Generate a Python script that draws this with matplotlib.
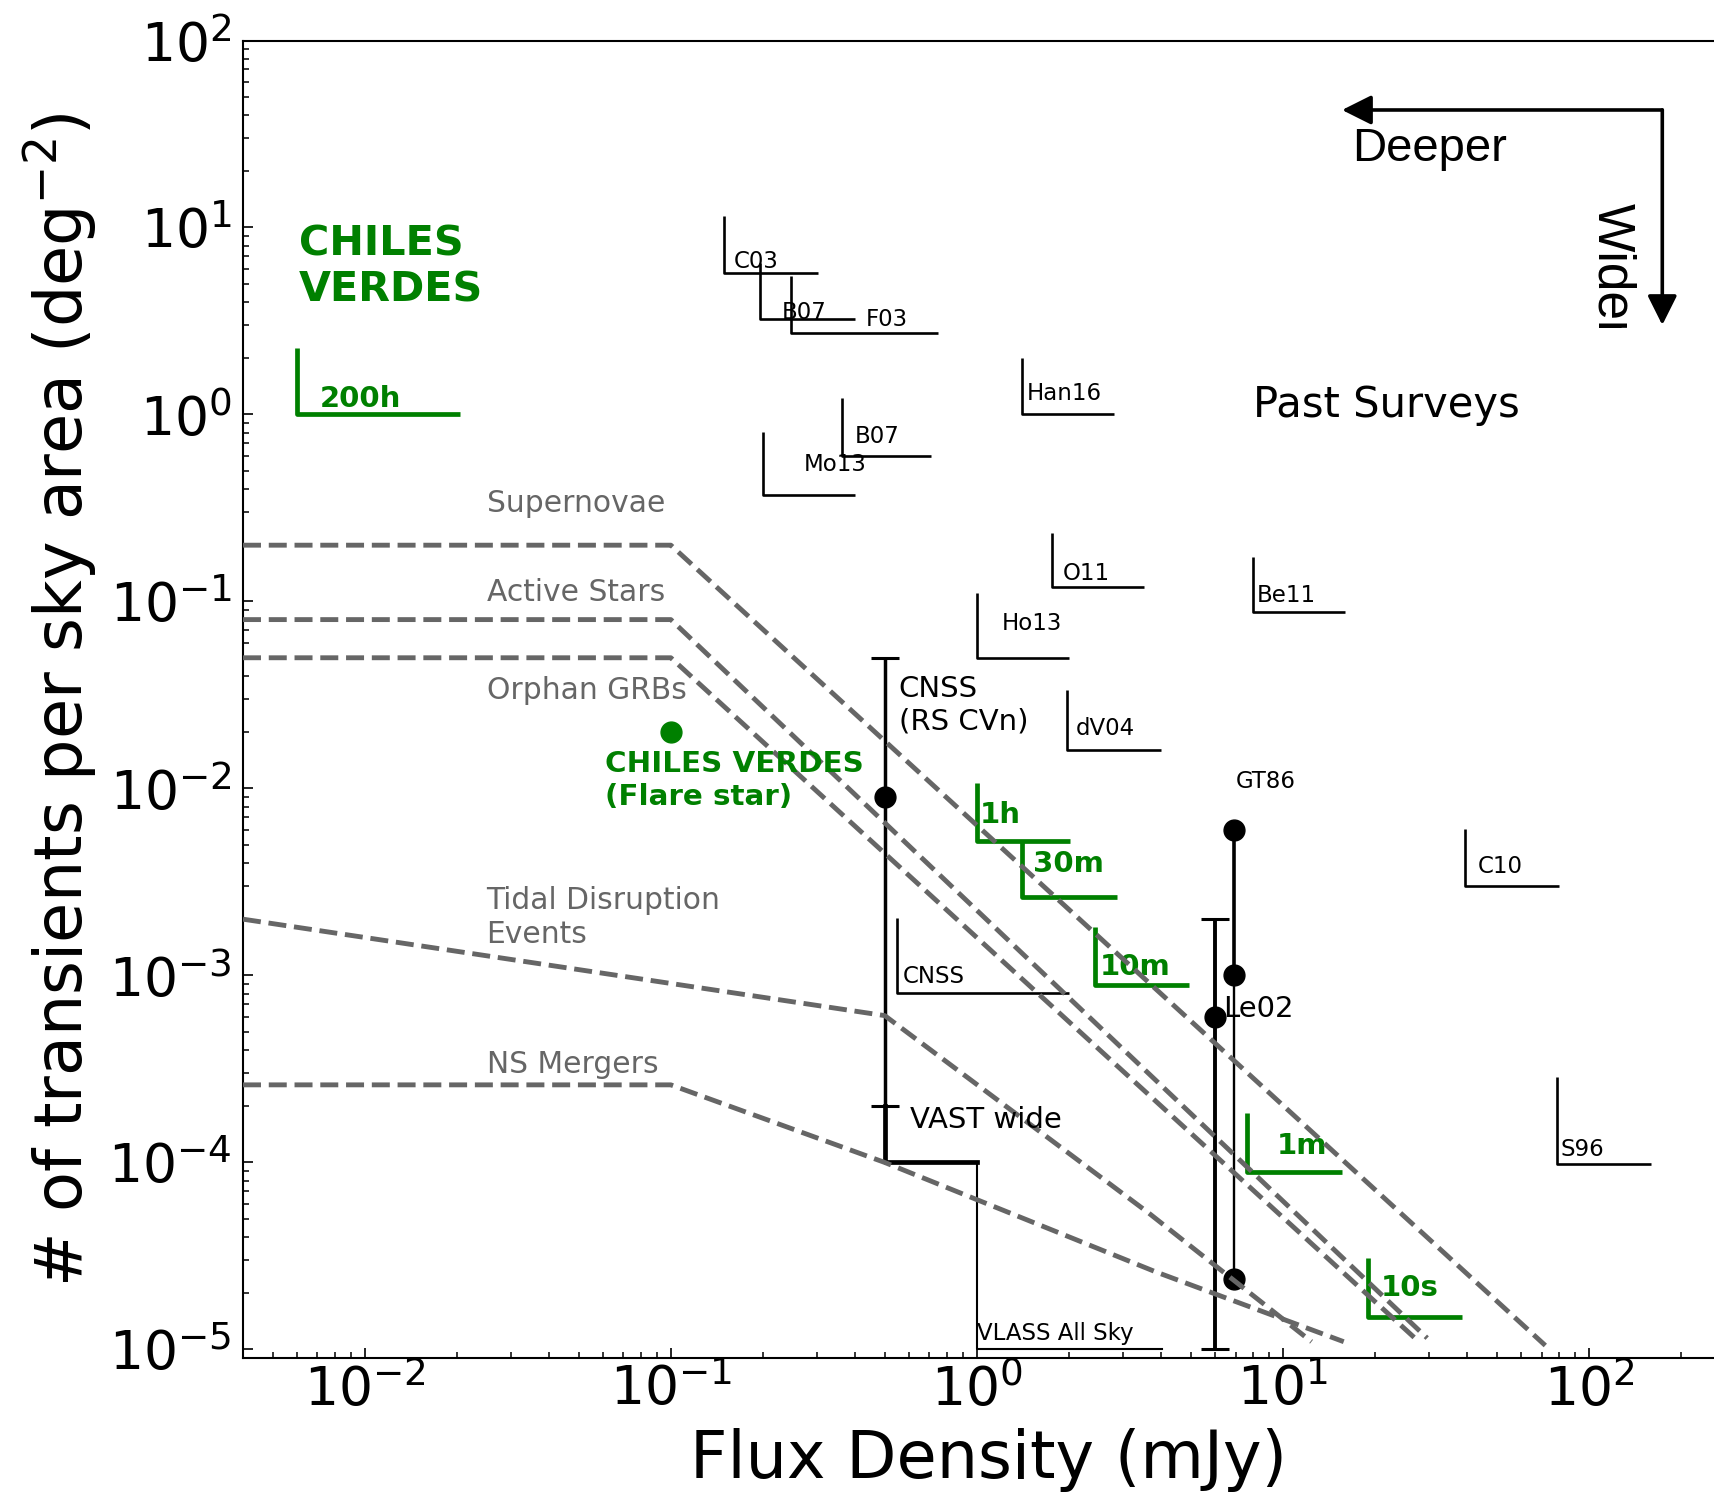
import matplotlib
matplotlib.use("Agg")
import matplotlib.pyplot as plt
from matplotlib.transforms import Bbox, TransformedBbox

# ---------------- data ----------------
# transient population models (dashed grey)
sn_x = [0.004, 0.1, 72.0]
sn_y = [0.2, 0.2, 1.05e-5]
as_x = [0.004, 0.1, 29.6]
as_y = [0.08, 0.08, 1.15e-5]
grb_x = [0.004, 0.1, 27.8]
grb_y = [0.05, 0.05, 1.1e-5]
tde_x = [0.004, 0.5, 3.65, 12.4]
tde_y = [2.0e-3, 6.1e-4, 5.35e-5, 1.1e-5]
ns_x = [0.004, 0.1, 0.5, 3.84, 15.8]
ns_y = [2.6e-4, 2.6e-4, 1.0e-4, 2.6e-5, 1.1e-5]

model_labels = ["Supernovae", "Active Stars", "Orphan GRBs",
                "Tidal Disruption\nEvents", "NS Mergers"]
model_label_x = [0.025, 0.025, 0.025, 0.025, 0.025]
model_label_y = [0.3, 0.1, 0.03, 1.5e-3, 3.0e-4]

# past surveys (black L markers)
ps_names = ["C03", "B07", "F03", "Han16", "B07", "Mo13", "O11", "Be11",
            "Ho13", "dV04", "C10", "S96", "CNSS"]
ps_x = [0.149, 0.195, 0.247, 1.40, 0.363, 0.20, 1.76, 8.0, 1.0, 1.97,
        39.4, 78.9, 0.548]
ps_y = [5.73, 3.23, 2.74, 1.0, 0.60, 0.37, 0.119, 0.088, 0.050, 0.0161,
        0.00302, 9.8e-5, 8.03e-4]
ps_xend = [0.302, 0.40, 0.747, 2.8, 0.706, 0.40, 3.51, 16.0, 2.0, 4.0,
           79.8, 159.5, 2.0]
ps_ytop = [11.5, 6.46, 5.52, 2.01, 1.22, 0.81, 0.233, 0.172, 0.111, 0.0336,
           0.00604, 2.85e-4, 2.04e-3]
ps_lx = [0.16, 0.231, 0.433, 1.46, 0.40, 0.272, 1.91, 8.2, 1.21, 2.11,
         43.3, 80.9, 0.573]
ps_ly = [6.07, 3.23, 2.97, 1.195, 0.70, 0.499, 0.130, 0.0998, 0.0705, 0.0193,
         0.00352, 1.08e-4, 9.1e-4]

# CHILES VERDES cadences (green L markers)
cv_names = ["200h", "1h", "30m", "10m", "1m", "10s"]
cv_x = [0.00602, 1.0, 1.4, 2.43, 7.66, 18.9]
cv_y = [1.0, 0.00526, 0.00262, 8.87e-4, 8.93e-5, 1.5e-5]
cv_xend = [0.0204, 2.01, 2.87, 4.95, 15.6, 38.4]
cv_ytop = [2.26, 0.01067, 0.00526, 1.82e-3, 1.84e-4, 3.08e-5]
cv_lx = [0.00711, 1.02, 1.52, 2.52, 9.57, 20.9]
cv_ly = [1.10, 0.00656, 0.00356, 1.0e-3, 1.11e-4, 1.93e-5]

# detections / rates
flare_x, flare_y = 0.1, 0.02
cnss_x, cnss_y, cnss_lo, cnss_hi = 0.5, 0.009, 2.0e-4, 0.05
le02_x, le02_y, le02_lo, le02_hi = 6.0, 6.03e-4, 1.0e-5, 2.0e-3
gt86_x = 6.92
gt86_y = [0.006, 1.0e-3, 2.37e-5]
vast_x = [0.5, 0.5, 1.0]
vast_y = [2.0e-4, 1.0e-4, 1.0e-4]
vlass_x = [1.0, 1.0, 4.02]
vlass_y = [1.0e-4, 1.0e-5, 1.0e-5]

GREEN = "#008000"
GREY = "#666666"

# ---------------- figure ----------------
plt.rcParams["font.family"] = ["DejaVu Sans"]
fig = plt.figure(figsize=(17.15, 14.92), dpi=100)
ax = fig.add_axes([243 / 1715, 134 / 1492, 1492 / 1715, 1317.5 / 1492])
ax.set_xscale("log")
ax.set_yscale("log")
ax.set_xlim(0.004, 300)
ax.set_ylim(9e-6, 100)

# past surveys
for i in range(len(ps_names)):
    ax.plot([ps_x[i], ps_x[i], ps_xend[i]], [ps_ytop[i], ps_y[i], ps_y[i]],
            color="k", lw=1.9, solid_capstyle="butt", zorder=2)
    ax.text(ps_lx[i], ps_ly[i], ps_names[i], fontsize=16.5, color="k",
            ha="left", va="baseline")

# CHILES VERDES cadences
for i in range(len(cv_names)):
    ax.plot([cv_x[i], cv_x[i], cv_xend[i]], [cv_ytop[i], cv_y[i], cv_y[i]],
            color=GREEN, lw=3.4, solid_capstyle="butt", zorder=2)
    ax.text(cv_lx[i], cv_ly[i], cv_names[i], fontsize=21, color=GREEN,
            fontweight="bold", ha="left", va="baseline")

# VAST / VLASS
ax.plot(vast_x, vast_y, color="k", lw=3.4, zorder=2)
ax.plot(vlass_x, vlass_y, color="k", lw=1.5, zorder=2)

# CNSS RS CVn
ax.errorbar([cnss_x], [cnss_y], yerr=[[cnss_y - cnss_lo], [cnss_hi - cnss_y]],
            fmt="o", color="k", ms=15, lw=2.5, capsize=10, capthick=2.2,
            zorder=2)
# Le02
ax.errorbar([le02_x], [le02_y], yerr=[[le02_y - le02_lo], [le02_hi - le02_y]],
            fmt="o", color="k", ms=15, lw=2.8, capsize=10, capthick=2.2,
            zorder=2)
# GT86
ax.plot([gt86_x, gt86_x], gt86_y[:2], color="k", lw=2.6, zorder=2)
ax.plot([gt86_x, gt86_x], gt86_y[1:], color="k", lw=1.7, zorder=2)
ax.plot([gt86_x] * 3, gt86_y, "o", color="k", ms=15, zorder=2)

# flare star
ax.plot([flare_x], [flare_y], "o", color=GREEN, ms=15, zorder=2)

# model curves
for xs, ys in [(sn_x, sn_y), (as_x, as_y), (grb_x, grb_y),
               (tde_x, tde_y), (ns_x, ns_y)]:
    ax.plot(xs, ys, "--", color=GREY, lw=3.5, zorder=3)
for lab, lx, ly in zip(model_labels, model_label_x, model_label_y):
    ax.text(lx, ly, lab, fontsize=21.4, color=GREY, ha="left", va="baseline")

# annotations
ax.text(0.0061, 4.0, "CHILES\nVERDES", fontsize=29.8, fontweight="bold",
        color=GREEN, ha="left", va="baseline")
ax.text(0.061, 0.00817, "CHILES VERDES\n(Flare star)", fontsize=21.2,
        fontweight="bold", color=GREEN, ha="left", va="baseline")
ax.text(0.556, 0.0206, "CNSS\n(RS CVn)", fontsize=21, color="k",
        ha="left", va="baseline")
ax.text(0.604, 1.52e-4, "VAST wide", fontsize=21, color="k",
        ha="left", va="baseline")
ax.text(6.4, 6.0e-4, "Le02", fontsize=21, color="k", ha="left", va="baseline")
ax.text(7.0, 0.01, "GT86", fontsize=16.5, color="k", ha="left", va="baseline")
ax.text(1.0, 1.13e-5, "VLASS All Sky", fontsize=16.5, color="k",
        ha="left", va="baseline")
ax.text(8.0, 0.97, "Past Surveys", fontsize=30, color="k",
        ha="left", va="baseline")

# Deeper / Wider arrows
arrow_kw = dict(arrowstyle="-|>,head_length=0.4,head_width=0.2",
                mutation_scale=45, lw=2.6, color="k", shrinkA=0, shrinkB=0)
ax.annotate("", xy=(15.6, 42.5), xytext=(173.6, 42.5), arrowprops=arrow_kw)
ax.annotate("", xy=(173.6, 3.01), xytext=(173.6, 42.5), arrowprops=arrow_kw)
ax.text(16.8, 22.7, "Deeper", fontsize=34, family="Liberation Sans",
        ha="left", va="baseline")
tw = ax.text(99.0, 13.5, "Wider", fontsize=37, family="Liberation Sans",
             rotation=-90, ha="left", va="top", clip_on=True)
tw.set_clip_box(TransformedBbox(Bbox([[50, 2.9], [300, 100]]), ax.transData))

# axes styling
ax.set_xlabel("Flux Density (mJy)", fontsize=47, labelpad=8)
ax.set_ylabel(r"# of transients per sky area (deg$^{-2}$)", fontsize=47,
              labelpad=7)
ax.tick_params(which="both", direction="in", top=False, right=False)
ax.tick_params(which="major", length=7.5, width=1.2, labelsize=38.5)
ax.tick_params(which="minor", length=4.2, width=1.1)
ax.tick_params(axis="x", which="major", pad=4)
ax.tick_params(axis="y", which="major", pad=8)
for s in ax.spines.values():
    s.set_linewidth(1.5)

fig.savefig("out.png", dpi=100)
